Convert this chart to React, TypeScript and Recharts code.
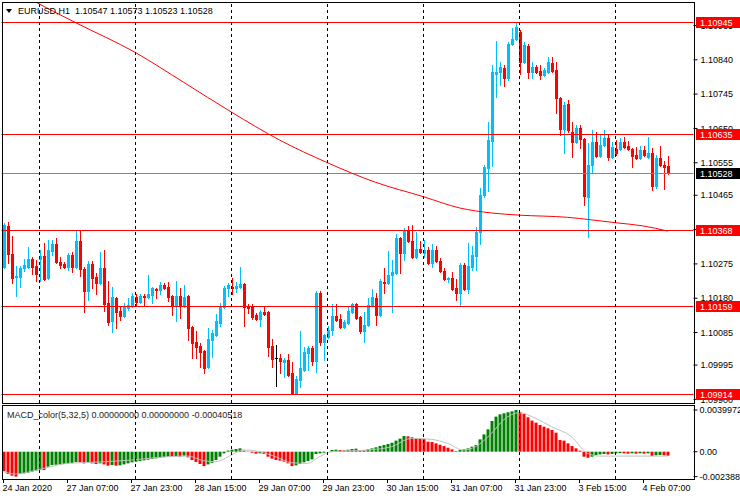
import { ComposedChart, Bar, Line, XAxis, YAxis, ReferenceLine, Cell } from 'recharts';

const FONT = "'Liberation Sans', Arial, sans-serif";
const BULL = '#00BFFF';
const BEAR = '#FF0000';

// EURUSD H1, prices in points (1e-5), bar 0 = 24 Jan 15:00
const opens = [
  110267, 110380, 110303, 110239, 110239, 110264, 110267, 110289, 110269, 110289, 110297, 110236, 110311, 110330, 110280, 110275,
  110267, 110300, 110267, 110338, 110261, 110200, 110275, 110239, 110222, 110264, 110167, 110117, 110181, 110144, 110130, 110153,
  110158, 110184, 110169, 110186, 110184, 110189, 110205, 110203, 110216, 110211, 110186, 110158, 110186, 110158, 110186, 110101,
  110058, 110047, 110034, 109990, 110064, 110078, 110112, 110156, 110208, 110211, 110208, 110211, 110219, 110158, 110158, 110133,
  110122, 110141, 110141, 110047, 110015, 110015, 110003, 110009, 109973, 109918, 109953, 109981, 110028, 110042, 110006, 110195,
  110058, 110073, 110092, 110130, 110122, 110101, 110112, 110141, 110164, 110128, 110089, 110106, 110161, 110181, 110133, 110224,
  110222, 110244, 110250, 110347, 110306, 110369, 110338, 110295, 110317, 110306, 110314, 110278, 110314, 110283, 110255, 110233,
  110236, 110208, 110195, 110272, 110205, 110267, 110297, 110363, 110466, 110541, 110615, 110801, 110806, 110818, 110790, 110884,
  110898, 110917, 110834, 110878, 110806, 110820, 110809, 110798, 110806, 110831, 110812, 110735, 110649, 110718, 110640, 110613,
  110651, 110621, 110460, 110549, 110613, 110574, 110604, 110624, 110571, 110593, 110593, 110613, 110602, 110593, 110577, 110568,
  110591, 110571, 110582, 110491, 110568, 110549, 110547,
];
const highs = [
  110389, 110391, 110352, 110269, 110269, 110289, 110322, 110295, 110286, 110314, 110333, 110341, 110341, 110347, 110295, 110280,
  110306, 110308, 110366, 110366, 110267, 110283, 110283, 110250, 110308, 110314, 110227, 110211, 110184, 110156, 110167, 110181,
  110195, 110192, 110192, 110192, 110244, 110211, 110208, 110224, 110222, 110224, 110189, 110227, 110208, 110216, 110189, 110103,
  110089, 110056, 110037, 110098, 110092, 110136, 110167, 110213, 110222, 110236, 110224, 110267, 110222, 110164, 110164, 110139,
  110147, 110156, 110144, 110067, 110050, 110026, 110015, 110026, 110003, 109964, 110089, 110045, 110047, 110047, 110200, 110200,
  110081, 110103, 110164, 110164, 110136, 110120, 110156, 110167, 110167, 110130, 110141, 110181, 110205, 110195, 110233, 110264,
  110311, 110286, 110358, 110350, 110375, 110380, 110383, 110363, 110338, 110341, 110322, 110330, 110325, 110292, 110264, 110239,
  110252, 110233, 110278, 110278, 110333, 110325, 110377, 110486, 110549, 110668, 110826, 110892, 110834, 110826, 110890, 110928,
  110945, 110923, 110890, 110884, 110834, 110826, 110826, 110818, 110848, 110848, 110834, 110737, 110723, 110729, 110668, 110660,
  110660, 110624, 110610, 110646, 110640, 110632, 110646, 110632, 110613, 110618, 110624, 110627, 110615, 110596, 110599, 110602,
  110602, 110627, 110596, 110577, 110602, 110560, 110573,
];
const lows = [
  110264, 110278, 110222, 110186, 110211, 110255, 110264, 110247, 110227, 110227, 110230, 110233, 110300, 110278, 110264, 110264,
  110258, 110252, 110264, 110241, 110141, 110175, 110208, 110192, 110219, 110144, 110106, 110086, 110098, 110120, 110128, 110147,
  110156, 110158, 110167, 110161, 110181, 110167, 110181, 110192, 110205, 110172, 110133, 110117, 110125, 110156, 110064, 110015,
  110015, 109990, 109973, 109987, 110018, 110075, 110103, 110153, 110186, 110192, 110197, 110208, 110103, 110139, 110122, 110120,
  110103, 110133, 110020, 109990, 109936, 109973, 109962, 109964, 109914, 109915, 109934, 109978, 109981, 109995, 109975, 110050,
  110009, 110070, 110078, 110117, 110098, 110098, 110109, 110139, 110122, 110084, 110058, 110103, 110158, 110106, 110130, 110195,
  110219, 110141, 110247, 110250, 110286, 110336, 110292, 110292, 110306, 110295, 110275, 110267, 110280, 110252, 110230, 110224,
  110203, 110175, 110161, 110203, 110195, 110258, 110258, 110330, 110460, 110477, 110546, 110737, 110770, 110768, 110784, 110881,
  110895, 110801, 110831, 110790, 110790, 110804, 110787, 110795, 110804, 110806, 110693, 110632, 110582, 110640, 110571, 110610,
  110596, 110438, 110350, 110527, 110571, 110571, 110602, 110563, 110568, 110577, 110591, 110596, 110591, 110543, 110566, 110566,
  110574, 110568, 110480, 110486, 110546, 110483, 110523,
];
const closes = [
  110383, 110303, 110236, 110241, 110264, 110272, 110289, 110267, 110247, 110297, 110233, 110314, 110330, 110280, 110272, 110267,
  110300, 110267, 110338, 110261, 110200, 110275, 110236, 110222, 110264, 110164, 110114, 110184, 110141, 110130, 110156, 110161,
  110186, 110169, 110186, 110184, 110192, 110208, 110203, 110216, 110208, 110184, 110158, 110186, 110158, 110184, 110098, 110056,
  110045, 110031, 109987, 110067, 110084, 110117, 110158, 110208, 110216, 110208, 110213, 110219, 110156, 110153, 110128, 110122,
  110141, 110136, 110045, 110012, 110015, 110006, 110009, 109967, 109918, 109956, 109987, 110031, 110042, 110006, 110195, 110058,
  110078, 110092, 110130, 110120, 110101, 110114, 110144, 110164, 110125, 110089, 110106, 110161, 110184, 110133, 110227, 110222,
  110244, 110252, 110347, 110306, 110369, 110338, 110295, 110317, 110308, 110314, 110278, 110314, 110283, 110255, 110233, 110236,
  110205, 110195, 110272, 110205, 110269, 110300, 110363, 110466, 110543, 110618, 110806, 110806, 110820, 110790, 110884, 110898,
  110931, 110834, 110881, 110806, 110820, 110806, 110798, 110812, 110834, 110809, 110735, 110649, 110715, 110646, 110613, 110651,
  110621, 110463, 110549, 110613, 110574, 110604, 110624, 110571, 110599, 110582, 110613, 110599, 110593, 110574, 110568, 110591,
  110577, 110582, 110491, 110568, 110549, 110543, 110528,
];

// 200-period MA, sampled [bar, points]
const maPts: [number, number][] = [
  [0, 111050], [7, 111006], [18, 110943], [33, 110860], [45, 110778], [57, 110695], [69, 110618], [81, 110555],
  [93, 110501], [105, 110461], [114, 110430], [122, 110416], [129, 110410], [141, 110404], [147, 110397],
  [153, 110389], [160, 110380], [166, 110366],
];

// MACD_color(5,32,5) histogram, 1e-5 units
const macdHist = [
  -186, -214, -230, -238.83, -214, -208, -202, -192, -182, -173, -176, -144, -128, -125, -122, -118,
  -112, -109, -99, -102, -112, -106, -112, -118, -112, -122, -134, -128, -134, -131, -122, -112,
  -102, -96, -90, -83, -77, -70, -64, -58, -51, -48, -51, -45, -48, -38, -54, -80,
  -99, -118, -138, -122, -106, -80, -48, -16, 10, 19, 26, 32, 10, -3, -10, -19,
  -16, -22, -48, -67, -80, -86, -96, -112, -138, -131, -118, -102, -90, -74, -22, -16,
  -10, 0, 16, 19, 16, 13, 19, 26, 29, 16, 13, 22, 32, 42, 54, 64,
  74, 86, 106, 125, 150, 147, 138, 128, 125, 122, 96, 93, 80, 67, 54, 38,
  22, 6, 16, 22, 32, 48, 64, 118, 166, 214, 294, 336, 358, 368, 378, 387,
  399.72, 381, 362, 330, 298, 278, 256, 240, 224, 208, 182, 112, 106, 80, 54, 32,
  10, -48, -58, -48, -32, -26, -22, -26, -22, -16, -13, -16, -19, -16, -19, -16,
  -19, -16, -42, -35, -32, -35, -38,
];
const signalPts: [number, number][] = [
  [0, -192], [3, -214], [9, -170], [16, -112], [24, -99], [32, -80], [41, -48], [46, -42], [50, -86],
  [53, -96], [57, -32], [60, 16], [64, 0], [68, -48], [72, -106], [76, -112], [79, -48], [82, 0],
  [91, 16], [97, 48], [102, 128], [107, 118], [111, 80], [115, 16], [118, 48], [122, 176], [125, 304],
  [129, 374], [133, 320], [137, 240], [142, 144], [146, -16], [149, -42], [166, -42],
];

const levels = [1.10945, 1.10635, 1.10368, 1.10159, 1.09914];
const bidPrice = 1.10528;
const priceTicks = [1.099, 1.09995, 1.10085, 1.1018, 1.10275, 1.1037, 1.10465, 1.10555, 1.1065, 1.10745, 1.1084, 1.10935];
const macdTicks = [-0.0023883, 0, 0.0039972];
const daySeps = [9, 33, 57, 81, 105, 129, 153];
const tickIdx = [0, 16, 32, 48, 64, 80, 96, 112, 128, 144, 160];
const tickText = [
  '24 Jan 2020', '27 Jan 07:00', '27 Jan 23:00', '28 Jan 15:00', '29 Jan 07:00', '29 Jan 23:00',
  '30 Jan 15:00', '31 Jan 07:00', '31 Jan 23:00', '3 Feb 15:00', '4 Feb 07:00',
];

const SLOTS = 173; // 167 bars + chart shift
const PRICE_DOMAIN: [number, number] = [1.0989, 1.11];
const maMap = new Map(maPts);
const sigMap = new Map(signalPts);

const rows = Array.from({ length: SLOTS }, (_, i) => {
  const has = i < opens.length;
  return {
    i,
    o: has ? opens[i] / 1e5 : undefined,
    h: has ? highs[i] / 1e5 : undefined,
    l: has ? lows[i] / 1e5 : undefined,
    c: has ? closes[i] / 1e5 : undefined,
    range: has ? [lows[i] / 1e5, highs[i] / 1e5] : undefined,
    ma: maMap.has(i) ? maMap.get(i)! / 1e5 : undefined,
    macd: has ? macdHist[i] / 1e5 : undefined,
    sig: sigMap.has(i) ? sigMap.get(i)! / 1e5 : undefined,
  };
});

const Candle = (props: any) => {
  const { x, y, width, height, payload } = props;
  if (!payload || payload.o == null) return null;
  const { o, h, l, c } = payload;
  const k = height / (h - l);
  const top = Math.round(y + (h - Math.max(o, c)) * k);
  const bot = Math.round(y + (h - Math.min(o, c)) * k);
  const color = c > o ? BULL : c < o ? BEAR : '#000';
  const x0 = Math.round(x);
  const wy = Math.round(y);
  return (
    <g>
      <rect x={x0 + 1} y={wy} width={1} height={Math.max(1, Math.round(y + height) - wy + 1)} fill={color} />
      <rect x={x0} y={top} width={Math.round(width)} height={Math.max(1, bot - top + 1)} fill={color} />
    </g>
  );
};

const vLine = (p: any) => {
  const xx = Math.floor(p.x1) + 0.5;
  return <line x1={xx} x2={xx} y1={p.y1} y2={p.y2} stroke="#000" strokeDasharray="3 3" />;
};
const hLine = (color: string) => (p: any) => {
  const yy = Math.round(p.y1) + 0.5;
  return <line x1={p.x1} x2={p.x2} y1={yy} y2={yy} stroke={color} />;
};
const noLine = () => null;

const Tag = (props: any) => {
  const { viewBox, text, bg } = props;
  if (!viewBox) return null;
  const yy = Math.round(viewBox.y);
  const x0 = Math.round(viewBox.x + viewBox.width) + 2;
  return (
    <g>
      <rect x={x0} y={yy - 5} width={46} height={11} fill={bg} />
      <text x={x0 + 4} y={yy + 0.5} dy="0.355em" fill="#fff" fontSize={9} fontFamily={FONT}>{text}</text>
    </g>
  );
};

const XTick = (props: any) => {
  const { x, y, payload } = props;
  const k = tickIdx.indexOf(payload.value);
  return (
    <text x={x - 1} y={y} dy="0.71em" fontSize={9} fontFamily={FONT} fill="#000" textAnchor="start">
      {tickText[k]}
    </text>
  );
};

const axisTick = { fontSize: 9, fill: '#000', fontFamily: FONT };

const frame = (left: number, top: number, width: number, height: number) => (
  <div
    style={{
      position: 'absolute', left, top, width, height, boxSizing: 'border-box',
      border: '1px solid #000', pointerEvents: 'none',
    }}
  />
);

const App = () => {
  return (
    <div style={{ position: 'absolute', left: 0, top: 0, width: 740, height: 500, background: '#fff', overflow: 'hidden', fontFamily: FONT }}>
      <div style={{ position: 'absolute', left: 0, top: 0 }}>
        <ComposedChart width={740} height={403} data={rows} margin={{ top: 2, right: 0, bottom: 0, left: 1.5 }}>
          <XAxis dataKey="i" type="category" hide />
          <YAxis
            orientation="right" width={46.5} domain={PRICE_DOMAIN} allowDataOverflow ticks={priceTicks}
            interval={0} tickFormatter={(v: number) => v.toFixed(5)} tick={axisTick} tickSize={4} tickMargin={3}
            tickLine={{ stroke: '#000' }} axisLine={false}
          />
          {levels.map((lv) => (
            <ReferenceLine key={'l' + lv} y={lv} stroke="#FF0000" shape={hLine('#FF0000')} />
          ))}
          <ReferenceLine y={bidPrice} stroke="#778899" shape={hLine('#778899')} />
          <Line dataKey="ma" type="monotone" stroke="#FF0000" strokeWidth={1} dot={false} connectNulls isAnimationActive={false} />
          <Bar dataKey="range" barSize={3} shape={Candle} isAnimationActive={false} />
          {daySeps.map((d) => (
            <ReferenceLine key={'d' + d} x={d} stroke="#000" shape={vLine} />
          ))}
        </ComposedChart>
      </div>
      {/* price tags on top of the axis labels */}
      <div style={{ position: 'absolute', left: 0, top: 0 }}>
        <ComposedChart width={740} height={403} data={rows} margin={{ top: 2, right: 0, bottom: 0, left: 1.5 }}>
          <XAxis dataKey="i" type="category" hide />
          <YAxis orientation="right" width={46.5} domain={PRICE_DOMAIN} allowDataOverflow tick={false} tickLine={false} axisLine={false} />
          {levels.map((lv) => (
            <ReferenceLine
              key={'t' + lv} y={lv} stroke="none" shape={noLine}
              label={<Tag text={lv.toFixed(5)} bg="#FF0000" />}
            />
          ))}
          <ReferenceLine y={bidPrice} stroke="none" shape={noLine} label={<Tag text={bidPrice.toFixed(5)} bg="#000" />} />
        </ComposedChart>
      </div>
      <div style={{ position: 'absolute', left: 0, top: 405 }}>
        <ComposedChart width={740} height={95} data={rows} margin={{ top: 2, right: 0, bottom: 0, left: 1.5 }}>
          <XAxis
            dataKey="i" type="category" ticks={tickIdx} interval={0} tick={<XTick />} tickSize={4}
            tickLine={{ stroke: '#000' }} axisLine={false} height={21}
          />
          <YAxis
            orientation="right" width={46.5} domain={[-0.0026184, 0.0042848]} allowDataOverflow ticks={macdTicks}
            interval={0} tickFormatter={(v: number) => (v === 0 ? '0.00' : v.toFixed(7))} tick={axisTick}
            tickSize={4} tickMargin={2} tickLine={{ stroke: '#000' }} axisLine={false}
          />
          <Bar dataKey="macd" barSize={3} isAnimationActive={false}>
            {rows.map((r, i) => {
              const prev = i > 0 ? rows[i - 1].macd : undefined;
              const up = prev != null && r.macd != null && r.macd >= prev;
              return <Cell key={i} fill={up ? '#008000' : '#FF0000'} />;
            })}
          </Bar>
          <Line dataKey="sig" type="monotone" stroke="#C0C0C0" strokeWidth={1} dot={false} connectNulls isAnimationActive={false} />
          {daySeps.map((d) => (
            <ReferenceLine key={'m' + d} x={d} stroke="#000" shape={vLine} />
          ))}
        </ComposedChart>
      </div>
      {frame(2, 2, 693, 402)}
      {frame(2, 405, 693, 75)}
      <svg style={{ position: 'absolute', left: 0, top: 0 }} width={16} height={16}>
        <polygon points="6,9 12,9 9,13" fill="#000" />
      </svg>
      <div style={{ position: 'absolute', left: 18, top: 6, fontSize: 9, lineHeight: '10px', color: '#000', whiteSpace: 'pre' }}>
        {'EURUSD,H1  1.10547 1.10573 1.10523 1.10528'}
      </div>
      <div style={{ position: 'absolute', left: 7, top: 410, fontSize: 9, lineHeight: '10px', color: '#222', whiteSpace: 'pre' }}>
        {'MACD_color(5,32,5) 0.00000000 0.00000000 -0.00040518'}
      </div>
    </div>
  );
};

export default App;
